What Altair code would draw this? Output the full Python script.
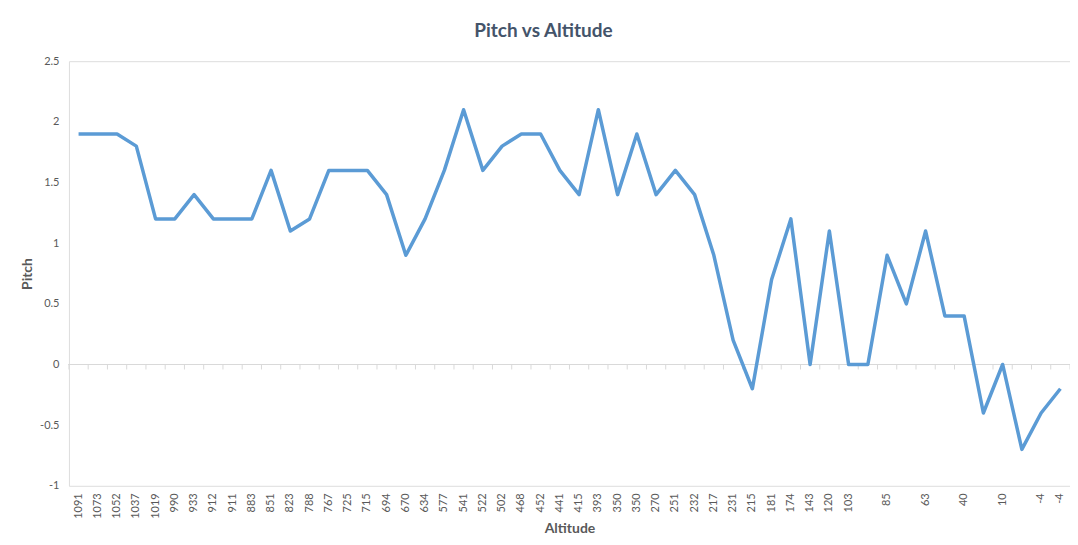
import altair as alt
import pandas as pd

altitude_labels = ["1091", "1073", "1052", "1037", "1019", "990", "933", "912", "911", "883",
                   "851", "823", "788", "767", "725", "715", "694", "670", "634", "577",
                   "541", "522", "502", "468", "452", "441", "415", "393", "350", "350",
                   "270", "251", "232", "217", "231", "215", "181", "174", "143", "120",
                   "103", "", "85", "", "63", "", "40", "", "10", "", "-4", "-4"]
pitch = [1.9, 1.9, 1.9, 1.8, 1.2, 1.2, 1.4, 1.2, 1.2, 1.2,
         1.6, 1.1, 1.2, 1.6, 1.6, 1.6, 1.4, 0.9, 1.2, 1.6,
         2.1, 1.6, 1.8, 1.9, 1.9, 1.6, 1.4, 2.1, 1.4, 1.9,
         1.4, 1.6, 1.4, 0.9, 0.2, -0.2, 0.7, 1.2, 0.0, 1.1,
         0.0, 0.0, 0.9, 0.5, 1.1, 0.4, 0.4, -0.4, 0.0, -0.7,
         -0.4, -0.2]
y_ticks = [-1, -0.5, 0, 0.5, 1, 1.5, 2, 2.5]

df = pd.DataFrame({"idx": list(range(len(pitch))), "label": altitude_labels, "pitch": pitch})
n = len(pitch)

W, H = 1002, 425
label_js = "[" + ",".join('"%s"' % s for s in altitude_labels) + "][datum.value]"

grid_c = "#D9D9D9"
text_c = "#595959"
font = "Lato"

x_scale = alt.Scale(type="band", paddingInner=0, paddingOuter=0)
y_scale = alt.Scale(domain=[-1, 2.5], nice=False)

x_axis = alt.Axis(title="Altitude", labelExpr=label_js, labelAngle=-90,
                  labelFontSize=11, labelColor=text_c, labelFont=font,
                  labelPadding=7, ticks=False, domain=False, grid=False,
                  titleFontSize=14, titleFontWeight="bold", titleColor=text_c,
                  titleFont=font, titlePadding=3, labelOverlap=False)
y_axis = alt.Axis(title="Pitch", values=y_ticks, labelExpr="toString(datum.value)",
                  labelFontSize=11, labelColor=text_c, labelFont=font,
                  labelPadding=10, ticks=False, domain=False,
                  gridColor=grid_c, gridWidth=1,
                  titleFontSize=14, titleFontWeight="bold", titleColor=text_c,
                  titleFont=font, titlePadding=5)

line = alt.Chart(df).mark_line(color="#5B9BD5", strokeWidth=3.5, strokeJoin="round").encode(
    x=alt.X("idx:O", scale=x_scale, sort=None, axis=x_axis),
    y=alt.Y("pitch:Q", scale=y_scale, axis=y_axis),
)

zero_line = alt.Chart(df).mark_rule(color=grid_c, strokeWidth=1).encode(
    y=alt.Y(datum=0, scale=y_scale, axis=y_axis),
)

ticks_start = alt.Chart(df).mark_rule(color=grid_c, strokeWidth=1, y2Offset=5).encode(
    x=alt.X("idx:O", scale=x_scale, sort=None, axis=x_axis, bandPosition=0),
    y=alt.Y(datum=0, scale=y_scale, axis=y_axis),
    y2=alt.Y2(datum=0),
)

ticks_end = alt.Chart(df).transform_filter(alt.datum.idx == n - 1).mark_rule(
    color=grid_c, strokeWidth=1, y2Offset=5).encode(
    x=alt.X("idx:O", scale=x_scale, sort=None, axis=x_axis, bandPosition=1),
    y=alt.Y(datum=0, scale=y_scale, axis=y_axis),
    y2=alt.Y2(datum=0),
)

chart = alt.layer(zero_line, ticks_start, ticks_end, line).properties(
    width=W, height=H,
    title=alt.TitleParams("Pitch vs Altitude", fontSize=19, fontWeight="bold",
                          color="#44546A", font=font, anchor="middle", dx=-26, offset=14),
    autosize=alt.AutoSizeParams(type="none"),
    padding={"left": 61, "top": 53, "right": 0, "bottom": 51},
).configure_view(stroke=None).configure(background="white")

chart.save("out.html", embed_options={"renderer": "svg", "actions": False})
